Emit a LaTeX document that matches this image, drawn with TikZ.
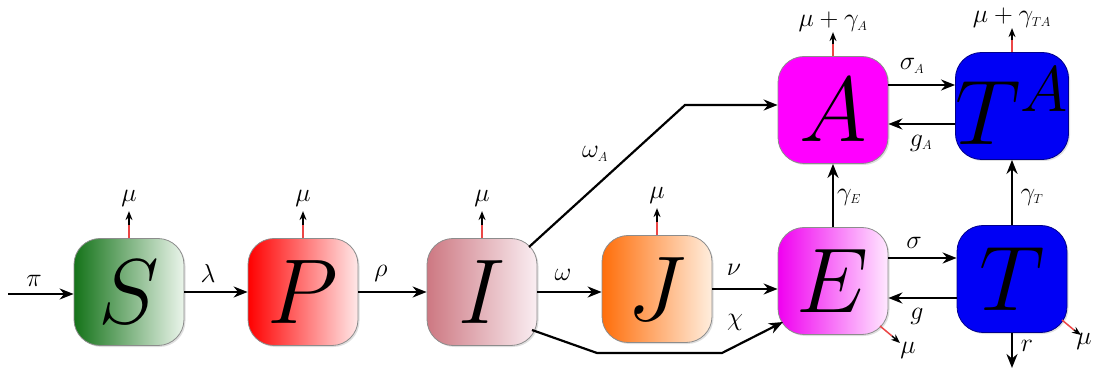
\documentclass[tikz,border=0pt]{standalone}
\usepackage{fix-cm}
\usetikzlibrary{arrows.meta,shadows,calc}
\definecolor{sgreen}{RGB}{20,115,25}
\definecolor{sgreenR}{RGB}{235,245,235}
\definecolor{pred}{RGB}{255,0,0}
\definecolor{predR}{RGB}{255,232,232}
\definecolor{irose}{RGB}{205,120,130}
\definecolor{iroseR}{RGB}{250,238,242}
\definecolor{jorange}{RGB}{255,110,10}
\definecolor{jorangeR}{RGB}{255,238,222}
\definecolor{emag}{RGB}{240,0,240}
\definecolor{emagR}{RGB}{255,232,255}
\definecolor{amag}{RGB}{255,0,255}
\definecolor{tblue}{RGB}{0,0,245}
\definecolor{tbord}{RGB}{0,0,140}
\definecolor{outred}{RGB}{235,70,70}
\newcommand{\ssub}[1]{_{\scriptscriptstyle #1}}
\tikzset{
  comp/.style={minimum width=110pt, minimum height=107pt, rounded corners=26pt,
    draw=black!45, line width=0.8pt, inner sep=0pt,
    drop shadow={opacity=0.25, shadow xshift=1.5pt, shadow yshift=-1.5pt},
    font=\fontsize{92}{92}\selectfont},
  arr/.style={line width=2.2pt, -{Stealth[length=14pt,width=11pt]}},
  outr/.style={outred, line width=1.5pt},
  outa/.style={line width=1.4pt, -{Stealth[length=9pt,width=7pt]}},
  lab/.style={font=\fontsize{26}{26}\selectfont, inner sep=0pt}
}
\begin{document}
\begin{tikzpicture}[x=1pt,y=-1pt]
\useasboundingbox (0,0) rectangle (1093,374);
% compartments
\node[comp, left color=sgreen, right color=sgreenR] (S) at (129,292) {$S$};
\node[comp, left color=pred, right color=predR] (P) at (303,292) {$P$};
\node[comp, left color=irose, right color=iroseR] (I) at (482,292) {$I$};
\node[comp, left color=jorange, right color=jorangeR] (J) at (657,289) {$J$};
\node[comp, left color=emag, right color=emagR] (E) at (833,281) {$E$};
\node[comp, fill=tblue, draw=tbord] (T) at (1012,279) {$T$};
\node[comp, fill=amag, draw=black!45] (A) at (833,110) {$A$};
\node[comp, fill=tblue, draw=tbord] (TA) at (1012,106) {$T^{A}$};
% main flow
\coordinate (pin) at (8,294);
\draw[arr] (pin) -- (S.west |- pin);
\node[lab] at (34,281) {$\pi$};
\draw[arr] (S.east) -- (P.west);
\node[lab] at (208,273) {$\lambda$};
\draw[arr] (P.east) -- (I.west);
\node[lab] at (381,273) {$\rho$};
\draw[arr] (I.east) -- (J.west |- I.east);
\node[lab] at (563,275) {$\omega$};
\draw[arr] (J.east) -- (E.west |- J.east);
\node[lab] at (734,270) {$\nu$};
% chi path
\coordinate (c1) at (597,353);
\coordinate (c2) at (722,353);
\draw[arr] ($(I.center)+(50,38)$) -- (c1) -- (c2) -- ($(E.center)+(-50,41)$);
\node[lab] at (735,322) {$\chi$};
% omega_A path
\coordinate (w1) at (685,105);
\draw[arr] ($(I.center)+(47,-45)$) -- (w1) -- (A.west |- w1);
\node[lab] at (595,154) {$\omega\ssub{A}$};
% E <-> T
\draw[arr] ($(E.east)+(0,-23)$) -- ($(T.west)+(0,-21)$);
\node[lab] at (914,243) {$\sigma$};
\draw[arr] ($(T.west)+(0,19)$) -- ($(E.east)+(0,17)$);
\node[lab] at (917,316) {$g$};
% A <-> TA
\draw[arr] ($(A.east)+(0,-25)$) -- ($(TA.west)+(0,-21)$);
\node[lab] at (912,66) {$\sigma\ssub{A}$};
\draw[arr] ($(TA.west)+(0,18)$) -- ($(A.east)+(0,14)$);
\node[lab] at (921,143) {$g\ssub{A}$};
% vertical
\draw[arr] (E.north) -- (A.south);
\node[lab] at (849,197) {$\gamma\ssub{E}$};
\draw[arr] (T.north) -- (TA.south);
\node[lab] at (1032,197) {$\gamma\ssub{T}$};
\coordinate (rout) at (1012,368);
\draw[arr] (T.south) -- (rout);
\node[lab] at (1027,346) {$r$};
% mu outflows (top)
\foreach \n in {S,P,I,J}{
  \draw[outr] (\n.north) -- ++(0,-13) coordinate (\n m);
  \draw[outa] (\n m) -- ++(0,-14) node[lab, above=4pt] {$\mu$};
}
\draw[outr] (A.north) -- ++(0,-12) coordinate (Am);
\draw[outa] (Am) -- ++(0,-12) node[lab, above=0pt] {$\mu+\gamma\ssub{A}$};
\draw[outr] (TA.north) -- ++(0,-12) coordinate (TAm);
\draw[outa] (TAm) -- ++(0,-12) node[lab, above=0pt] {$\mu+\gamma\ssub{TA}$};
% mu outflows (diagonal)
\coordinate (Ed) at ($(E.center)+(47,45)$);
\draw[outr] (Ed) -- ++(12,10) coordinate (Ed2);
\draw[outa] (Ed2) -- ++(8,7);
\node[lab] at (908,350) {$\mu$};
\coordinate (Td) at ($(T.center)+(50,41)$);
\draw[outr] (Td) -- ++(12,10) coordinate (Td2);
\draw[outa] (Td2) -- ++(7,5);
\node[lab] at (1084,341) {$\mu$};
\end{tikzpicture}
\end{document}
